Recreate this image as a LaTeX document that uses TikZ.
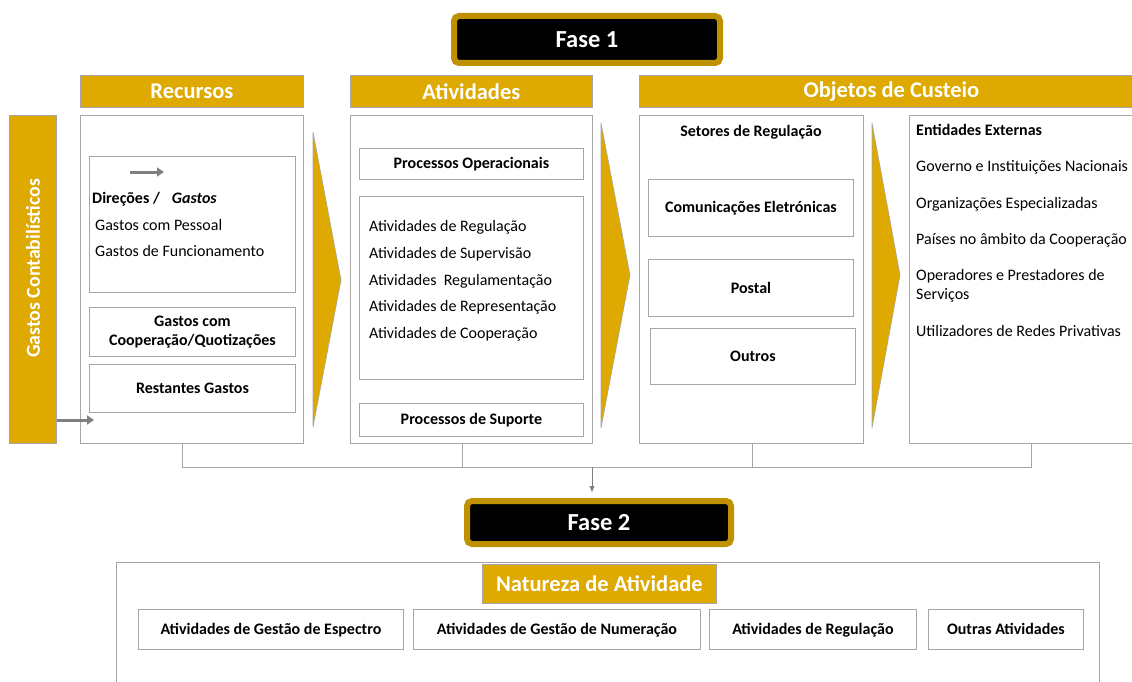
\documentclass[tikz,border=0pt]{standalone}
\usepackage{fontspec}
\setmainfont{Carlito}
\usetikzlibrary{arrows.meta}
\definecolor{goldc}{RGB}{222,169,0}
\definecolor{goldb}{RGB}{191,144,0}
\definecolor{linec}{RGB}{166,166,166}
\definecolor{arrc}{RGB}{128,128,128}
\newcommand{\bodyfont}{\fontsize{16}{19}\selectfont}
\newcommand{\headfont}{\fontsize{22.5}{26}\selectfont\bfseries}
\newcommand{\fasefont}{\fontsize{24.5}{28}\selectfont\bfseries}
\begin{document}
\begin{tikzpicture}[x=1pt,y=-1pt,
  goldbar/.style={fill=goldc, draw=linec, line width=0.8pt, text=white, font=\headfont, inner sep=0pt, anchor=north west},
  panel/.style={draw=linec, fill=white, line width=0.9pt, inner sep=0pt, anchor=north west, minimum height=328pt},
  ibox/.style={draw=linec, fill=white, line width=0.9pt, inner sep=0pt, anchor=north west, font=\bodyfont\bfseries, align=center},
  bbox/.style={ibox, minimum height=40pt, text height=13pt, text depth=2pt},
  txt/.style={font=\bodyfont, anchor=mid west, inner sep=0pt, yshift=-2.5pt},
  btxt/.style={font=\bodyfont\bfseries, anchor=mid west, inner sep=0pt, yshift=-2.5pt},
  fase/.style={fill=black, draw=goldb, line width=6pt, rounded corners=5pt, text=white, font=\fasefont, inner sep=0pt},
  chev/.style={fill=goldc, draw=linec, line width=0.6pt},
  garrow/.style={draw=arrc, line width=3pt, -{Triangle[length=7pt,width=9pt]}},
  conn/.style={draw=linec, line width=1pt},
]
\clip (0,0) rectangle (1132,682);

% Fase 1
\node[fase, minimum width=266pt, minimum height=47pt] (f1) at (587,39.5) {Fase 1};

% headers
\node[goldbar, minimum width=223pt, minimum height=32pt] (hrec) at (80,75) {Recursos};
\node[goldbar, minimum width=242pt, minimum height=32pt] (hact) at (350,75) {Atividades};
\node[goldbar, minimum width=504pt, minimum height=32pt] (hobj) at (639,75) {Objetos de Custeio};

% Gastos contabilisticos bar
\node[fill=goldc, draw=linec, line width=0.8pt, anchor=north west, minimum width=47pt, minimum height=328pt, inner sep=0pt] (gc) at (9,115) {};
\node[rotate=90, text=white, font=\fontsize{19.8}{23}\selectfont\bfseries] (gct) at ([yshift=11pt]gc.center) {Gastos Contabilísticos};

% panels
\node[panel, minimum width=223pt] (rec) at (80,115) {};
\node[panel, minimum width=242pt] (act) at (350,115) {};
\node[panel, minimum width=224pt] (obj1) at (639,115) {};
\node[panel, minimum width=240pt] (obj2) at (909,115) {};

% chevrons
\draw[chev] (313,132) -- (341,280) -- (313,427) -- cycle;
\draw[chev] (601,123) -- (630,275) -- (601,428) -- cycle;
\draw[chev] (872,123) -- (900,275) -- (872,428) -- cycle;

% Recursos content
\node[ibox, minimum width=206pt, minimum height=136pt] (dir) at (89,156) {};
\coordinate (a1s) at (130,172);
\coordinate (a1e) at (164,172);
\draw[garrow] (a1s) -- (a1e);
\node[btxt] (dirt) at (92,199) {Direções /\hspace{12pt}\textit{Gastos}};
\node[txt] (gp) at (95,226) {Gastos com Pessoal};
\node[txt] (gf) at (95,252) {Gastos de Funcionamento};
\node[ibox, minimum width=206pt, minimum height=49pt] (coop) at (89,307) {Gastos com\\Cooperação/Quotizações};
\node[ibox, minimum width=206pt, minimum height=48pt] (rest) at (89,364) {Restantes Gastos};
\coordinate (a2e) at (94,420);
\draw[garrow] (a2e -| gc.east) -- (a2e);

% Atividades content
\node[ibox, minimum width=224pt, minimum height=31pt] (po) at (359,148) {Processos Operacionais};
\node[ibox, minimum width=224pt, minimum height=183pt] (lst) at (359,196) {};
\node[txt] (l1) at (369,227) {Atividades de Regulação};
\node[txt] (l2) at (369,254) {Atividades de Supervisão};
\node[txt] (l3) at (369,281) {Atividades\ \ Regulamentação};
\node[txt] (l4) at (369,307) {Atividades de Representação};
\node[txt] (l5) at (369,334) {Atividades de Cooperação};
\node[ibox, minimum width=224pt, minimum height=33pt] (ps) at (359,403) {Processos de Suporte};

% Objetos 1
\node[font=\bodyfont\bfseries, inner sep=0pt, yshift=-1.5pt] (setr) at (751,131) {Setores de Regulação};
\node[ibox, minimum width=205pt, minimum height=57pt] (ce) at (648,179) {Comunicações Eletrónicas};
\node[ibox, minimum width=205pt, minimum height=57pt] (pos) at (648,259) {Postal};
\node[ibox, minimum width=205pt, minimum height=56pt] (out) at (650,328) {Outros};

% Objetos 2
\node[btxt] (ee) at (916,131) {Entidades Externas};
\node[txt] (e1) at (916,167) {Governo e Instituições Nacionais};
\node[txt] (e2) at (916,204) {Organizações Especializadas};
\node[txt] (e3) at (916,240) {Países no âmbito da Cooperação};
\node[txt] (e4) at (916,276) {Operadores e Prestadores de};
\node[txt] (e4b) at (916,295) {Serviços};
\node[txt] (e5) at (916,332) {Utilizadores de Redes Privativas};

% connectors
\coordinate (busL) at (182,467);
\coordinate (busR) at (1031,467);
\coordinate (busM) at (592,467);
\draw[conn] (busL |- rec.south) -- (busL) -- (busR) -- (busR |- obj2.south);
\draw[conn] (462,467) -- (462,443);
\draw[conn] (752,467) -- (752,443);

% Fase 2
\node[fase, minimum width=264pt, minimum height=43pt] (f2) at (599,522.5) {Fase 2};
\draw[conn, -{Triangle[length=6pt,width=5pt]}, draw=arrc, fill=arrc] (busM) -- (busM |- 0,492);

% bottom
\node[draw=linec, line width=0.9pt, anchor=north west, minimum width=983pt, minimum height=200pt, inner sep=0pt] (big) at (116,562) {};
\node[goldbar, minimum width=234pt, minimum height=39pt] (nat) at (482,564) {Natureza de Atividade};
\node[bbox, minimum width=265pt] (bA) at (138,609) {Atividades de Gestão de Espectro};
\node[bbox, minimum width=287pt] (bB) at (413,609) {Atividades de Gestão de Numeração};
\node[bbox, minimum width=207pt] (bC) at (709,609) {Atividades de Regulação};
\node[bbox, minimum width=155pt] (bD) at (928,609) {Outras Atividades};
\end{tikzpicture}
\end{document}
